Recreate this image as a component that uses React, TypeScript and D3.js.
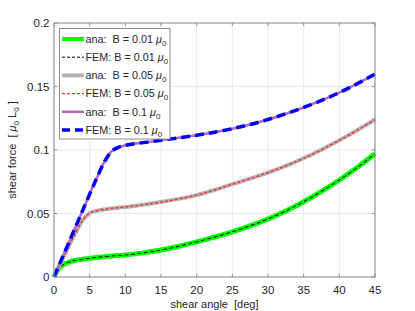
import React from "react";
import * as d3 from "d3";

const angles = [0, 0.5, 1, 1.5, 2, 3, 4, 5, 6, 7, 8, 9, 10, 12.5, 15, 17.5, 20, 22.5, 25, 27.5, 30, 32.5, 35, 37.5, 40, 42.5, 45];
const force001 = [0, 0.0055, 0.0085, 0.0103, 0.0116, 0.0131, 0.0140, 0.0147, 0.0154, 0.0160, 0.0165, 0.0169, 0.0173, 0.0190, 0.0212, 0.0242, 0.0277, 0.0314, 0.0356, 0.0403, 0.0457, 0.0520, 0.0593, 0.0675, 0.0764, 0.0862, 0.0970];
const force005 = [0, 0.006, 0.0118, 0.0176, 0.0234, 0.0345, 0.0445, 0.0503, 0.0522, 0.0532, 0.0540, 0.0546, 0.0551, 0.0569, 0.0590, 0.0615, 0.0645, 0.0685, 0.0731, 0.0775, 0.0822, 0.0875, 0.0935, 0.1002, 0.1076, 0.1155, 0.1240];
const force01 = [0, 0.0066, 0.0132, 0.0197, 0.0262, 0.0392, 0.0522, 0.0652, 0.0780, 0.0900, 0.0985, 0.1020, 0.1037, 0.1058, 0.1077, 0.1096, 0.1116, 0.1140, 0.1168, 0.1201, 0.1240, 0.1285, 0.1335, 0.1390, 0.1452, 0.1522, 0.1598];

const xTicks = [0, 5, 10, 15, 20, 25, 30, 35, 40, 45];
const yTicks = [0, 0.05, 0.1, 0.15, 0.2];
const yTickLabels = ["0", "0.05", "0.1", "0.15", "0.2"];

type S = { label: string; b: string; data: number[]; color: string; width: number; dash?: string; legDash?: string };
const seriesList: S[] = [
  { label: "ana:  B = ", b: "0.01", data: force001, color: "#00ff00", width: 5 },
  { label: "FEM: B = ", b: "0.01", data: force001, color: "#000000", width: 1, dash: "4,2.5", legDash: "3,2" },
  { label: "ana:  B = ", b: "0.05", data: force005, color: "#b3b3b3", width: 4 },
  { label: "FEM: B = ", b: "0.05", data: force005, color: "#ff2a2a", width: 1.3, dash: "3,2", legDash: "3,2" },
  { label: "ana:  B = ", b: "0.1", data: force01, color: "#b366b3", width: 2.5 },
  { label: "FEM: B = ", b: "0.1", data: force01, color: "#0000ff", width: 3.5, dash: "9,5", legDash: "8,5" },
];

export default function App() {
  const W = 415, H = 311;
  const left = 54, right = 375, top = 23, bottom = 277;
  const x = d3.scaleLinear().domain([0, 45]).range([left, right]);
  const y = d3.scaleLinear().domain([0, 0.2]).range([bottom, top]);
  const line = d3.line<number>().x((_, i) => x(angles[i])).y((d) => y(d)).curve(d3.curveMonotoneX);
  const font = "'Liberation Sans', Arial, sans-serif";
  const axisColor = "#8c8c8c";
  const legX = 59.5, legY = 28.5, legW = 110.5, legH = 110.5;
  const rowH = 18.2;
  return (
    <svg width={W} height={H} style={{ position: "absolute", left: 0, top: 0, background: "#fff" }} fontFamily={font}>
      <rect x={0} y={0} width={W} height={H} fill="#fff" />
      {xTicks.map((t) => (
        <line key={"gx" + t} x1={x(t)} x2={x(t)} y1={top} y2={bottom} stroke="#e3e3e3" strokeWidth={0.8} />
      ))}
      {yTicks.map((t) => (
        <line key={"gy" + t} x1={left} x2={right} y1={y(t)} y2={y(t)} stroke="#e3e3e3" strokeWidth={0.8} />
      ))}
      <g clipPath="url(#clip)">
        {seriesList.map((s, i) => (
          <path key={i} d={line(s.data) || ""} fill="none" stroke={s.color} strokeWidth={s.width} strokeDasharray={s.dash} />
        ))}
      </g>
      <defs>
        <clipPath id="clip">
          <rect x={left - 3} y={top} width={right - left + 6} height={bottom - top + 3} />
        </clipPath>
      </defs>
      <rect x={left} y={top} width={right - left} height={bottom - top} fill="none" stroke={axisColor} strokeWidth={1} />
      {xTicks.map((t) => (
        <g key={"tx" + t}>
          <line x1={x(t)} x2={x(t)} y1={bottom} y2={bottom - 3} stroke={axisColor} />
          <line x1={x(t)} x2={x(t)} y1={top} y2={top + 3} stroke={axisColor} />
          <text x={x(t)} y={293.5} fontSize={11.5} textAnchor="middle" fill="#262626">{t}</text>
        </g>
      ))}
      {yTicks.map((t, i) => (
        <g key={"ty" + t}>
          <line x1={left} x2={left + 3} y1={y(t)} y2={y(t)} stroke={axisColor} />
          <line x1={right} x2={right - 3} y1={y(t)} y2={y(t)} stroke={axisColor} />
          <text x={49.5} y={y(t) + 4} fontSize={11.5} textAnchor="end" fill="#262626">{yTickLabels[i]}</text>
        </g>
      ))}
      <text x={(left + right) / 2} y={308} fontSize={11} textAnchor="middle" fill="#262626" xmlSpace="preserve">shear angle  [deg]</text>
      <text transform={`translate(16,${(top + bottom) / 2}) rotate(-90)`} fontSize={11} textAnchor="middle" fill="#262626" xmlSpace="preserve">
        {"shear force  [ "}<tspan fontStyle="italic">μ</tspan><tspan fontSize={8} dy={3}>0</tspan><tspan dy={-3}> L</tspan><tspan fontSize={8} dy={3}>0</tspan><tspan dy={-3}> ]</tspan>
      </text>
      <rect x={legX} y={legY} width={legW} height={legH} fill="#fff" stroke={axisColor} strokeWidth={1} />
      {seriesList.map((s, i) => {
        const ry = 39 + i * rowH;
        return (
          <g key={"l" + i}>
            <line x1={62} x2={84} y1={ry} y2={ry} stroke={s.color} strokeWidth={Math.min(s.width, 4)} strokeDasharray={s.legDash} />
            <text x={85.5} y={ry + 3.8} fontSize={10.8} fill="#262626" xmlSpace="preserve">
              {s.label + s.b + " "}<tspan fontStyle="italic">μ</tspan><tspan fontSize={8} dy={3}>0</tspan>
            </text>
          </g>
        );
      })}
    </svg>
  );
}
